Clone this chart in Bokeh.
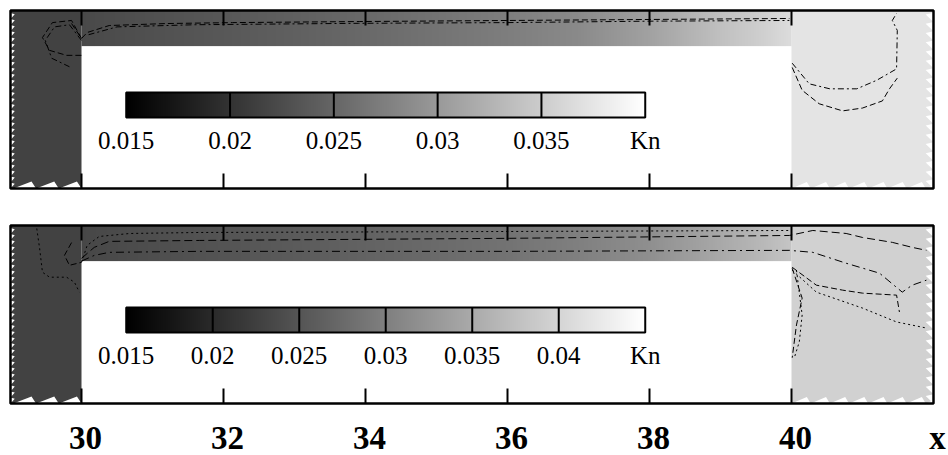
import numpy as np
from bokeh.plotting import figure
from bokeh.models import LinearColorMapper, ColumnDataSource, Range1d
from bokeh.layouts import column
from bokeh.core.properties import value
from bokeh.embed import file_html
from bokeh.resources import INLINE

# ---------------- data ----------------
# Kn along the micro-channel (x positions where it was read)
chan_x = [30, 31, 32, 33, 34, 35, 36, 37, 38, 38.5, 39, 39.5, 40]
kn_top_chan = [0.0222, 0.0229, 0.0236, 0.0244, 0.0253, 0.0263, 0.0273,
               0.0285, 0.0308, 0.0323, 0.0338, 0.0350, 0.0365]
kn_bot_chan = [0.0234, 0.0242, 0.0249, 0.0257, 0.0266, 0.0275, 0.0285,
               0.0300, 0.0318, 0.0333, 0.0348, 0.0363, 0.0381]
kn_top_inlet, kn_top_outlet = 0.0215, 0.0373
kn_bot_inlet, kn_bot_outlet = 0.0228, 0.0396

# colour bar scales
cbar_top_ticks = [0.015, 0.02, 0.025, 0.03, 0.035, 0.04]
cbar_top_labels = ["0.015", "0.02", "0.025", "0.03", "0.035", "Kn"]
cbar_bot_ticks = [0.015, 0.02, 0.025, 0.03, 0.035, 0.04, 0.045]
cbar_bot_labels = ["0.015", "0.02", "0.025", "0.03", "0.035", "0.04", "Kn"]

# x axis
x_ticks = [30, 32, 34, 36, 38, 40]
x_tick_labels = ["30", "32", "34", "36", "38", "40"]
x_axis_title = "x"

# contour lines (x, y, dash style) – top panel
top_contours = [
    ([29.86, 30.0, 30.08, 30.39, 31.2, 32.13, 33.92, 36.03, 38.0, 39.97],
     [0.317, 0.107, 0.191, 0.289, 0.317, 0.33, 0.345, 0.36, 0.374, 0.388], "6 3"),
    ([30.1, 30.5, 31.6, 33.9, 36.0, 38.0, 39.97],
     [0.16, 0.27, 0.30, 0.32, 0.33, 0.35, 0.36], "6 3 2 3"),
    ([30.0, 29.86, 29.59, 29.45, 29.55, 29.79, 30.0],
     [0.107, 0.36, 0.33, 0.12, -0.06, -0.13, -0.13], "6 3"),
    ([30.0, 29.83, 29.62, 29.49, 29.58, 29.83],
     [0.08, 0.30, 0.27, 0.08, -0.17, -0.29], "6 3 2 3"),
    ([40.01, 40.25, 40.54, 40.92, 41.2, 41.48, 41.49, 41.42, 41.48],
     [-0.24, -0.53, -0.60, -0.60, -0.48, -0.32, 0.22, 0.36, 0.46], "6 3 2 3"),
    ([40.01, 40.15, 40.39, 40.72, 41.0, 41.28, 41.38, 41.49],
     [-0.30, -0.62, -0.81, -0.91, -0.87, -0.77, -0.60, -0.45], "6 3"),
]
# contour lines – bottom panel
bot_contours = [
    ([30.0, 30.08, 30.25, 30.68, 31.66, 36.03, 39.97],
     [-0.017, 0.221, 0.346, 0.388, 0.402, 0.416, 0.43], "2 3"),
    ([30.0, 30.18, 30.39, 31.66, 36.03, 39.97, 40.30, 40.77, 41.0, 41.42, 41.70, 41.90],
     [0.039, 0.193, 0.277, 0.29, 0.32, 0.36, 0.43, 0.388, 0.332, 0.263, 0.193, 0.151],
     "8 4"),
    ([30.0, 30.18, 30.39, 31.66, 36.03, 39.97, 40.30, 40.77, 41.24, 41.56, 41.70, 41.90],
     [0.0, 0.08, 0.123, 0.137, 0.137, 0.151, 0.123, -0.03, -0.17, -0.436, -0.338, -0.268],
     "8 4 2 4"),
    ([40.01, 40.35, 40.72, 41.0, 41.48, 41.52],
     [-0.087, -0.338, -0.408, -0.45, -0.478, -0.715], "6 3"),
    ([40.01, 40.35, 41.0, 41.48, 41.90],
     [-0.128, -0.436, -0.66, -0.855, -0.94], "2 3"),
    ([40.01, 40.15, 40.07, 40.01],
     [-0.10, -0.52, -0.897, -1.357], "6 3"),
    ([40.07, 40.15, 40.11, 40.04],
     [-0.128, -0.757, -1.134, -1.357], "2 3"),
    ([29.37, 29.41, 29.45, 29.55, 29.79, 29.90, 29.97],
     [0.458, 0.179, -0.156, -0.226, -0.226, -0.296, -0.436], "2 3"),
    ([29.86, 29.76, 29.83, 30.0],
     [0.26, 0.081, -0.059, -0.017], "6 3"),
]

# ---------------- layout constants (geometry, not data) ----------------
X0, X1, Y0, Y1 = 29.0, 42.0, -2.0, 0.5          # domain of each panel
CH_X0, CH_X1, CH_Y0 = 30.0, 40.0, 0.0            # channel
PX_X, PX_Y = 71.0, 71.2                          # pixels per unit
XR = Range1d(X0 - 10 / PX_X, X0 + 938 / PX_X)
Y_TOP = Y1 + 10 / PX_Y
CB_X0, CB_X1, CB_Y0, CB_Y1 = 30.63, 37.94, -1.003, -0.652
CB_LAB_Y = Y_TOP - 140 / PX_Y
TICK_LEN = 15 / PX_Y
SERIF = "Liberation Serif"
gray_palette = ["#%02x%02x%02x" % (i, i, i) for i in range(256)]


def sawtooth(start, stop, step, base, depth, vertical):
    """white sawtooth along a mesh edge (rendering of jagged mesh border)"""
    s = np.arange(start, stop, step)
    a, b = [], []
    for v in s:
        a += [v, v + step * 0.8, v + step]
        b += [base, base + depth, base]
    return (b, a) if vertical else (a, b)


def make_panel(kn_chan, kn_in, kn_out, cticks, clabels, contours,
               height, show_labels):
    kmin, kmax = cticks[0], cticks[-1]
    mapper = LinearColorMapper(palette=gray_palette, low=kmin, high=kmax)
    p = figure(width=948, height=height, output_backend="svg",
               toolbar_location=None, x_range=XR,
               y_range=Range1d(Y_TOP - height / PX_Y, Y_TOP),
               x_axis_location=None, y_axis_location=None,
               min_border=0, min_border_left=0, min_border_right=0,
               min_border_top=0, min_border_bottom=0)
    p.grid.visible = False
    p.outline_line_color = None
    p.background_fill_color = "white"
    p.border_fill_color = "white"

    # inlet and outlet reservoirs
    src = ColumnDataSource(dict(left=[X0, CH_X1], right=[CH_X0, X1],
                                bottom=[Y0, Y0], top=[Y1, Y1],
                                kn=[kn_in, kn_out]))
    p.quad(left="left", right="right", bottom="bottom", top="top",
           fill_color={"field": "kn", "transform": mapper},
           line_color=None, source=src)
    # channel: read profile rendered as a smooth gradient
    xs = np.linspace(CH_X0, CH_X1, 600)
    prof = np.interp(xs, chan_x, kn_chan)
    p.image(image=[np.tile(prof, (2, 1))], x=CH_X0, y=CH_Y0,
            dw=CH_X1 - CH_X0, dh=Y1 - CH_Y0, color_mapper=mapper)

    # jagged mesh borders
    for args in [(Y0, Y1 - 0.08, 0.085, X0, 0.06, True),
                 (Y0, Y1 - 0.08, 0.13, X1, -0.11, True),
                 (X0 + 0.04, CH_X0, 0.32, Y0, 0.1, False),
                 (CH_X1, X1, 0.27, Y0, 0.09, False)]:
        sx, sy = sawtooth(*args)
        p.patch(sx, sy, fill_color="white", line_color=None)

    # contour lines
    for cx, cy, dash in contours:
        p.line(cx, cy, line_color="black", line_width=1, line_dash=dash)

    # colour bar
    grad = np.linspace(kmin, kmax, 256).reshape(1, 256)
    p.image(image=[grad], x=CB_X0, y=CB_Y0, dw=CB_X1 - CB_X0,
            dh=CB_Y1 - CB_Y0, color_mapper=mapper)
    tx = [CB_X0 + (t - kmin) / (kmax - kmin) * (CB_X1 - CB_X0) for t in cticks]
    n = len(tx) - 2
    p.segment(x0=tx[1:-1], y0=[CB_Y0] * n, x1=tx[1:-1], y1=[CB_Y1] * n,
              line_color="black", line_width=2)
    p.quad(left=[CB_X0], right=[CB_X1], bottom=[CB_Y0], top=[CB_Y1],
           fill_color=None, line_color="black", line_width=2)
    p.text(x=tx, y=[CB_LAB_Y] * len(tx), text=clabels,
           text_font=value(SERIF), text_font_size="25px",
           text_align="center", text_baseline="middle",
           text_color="black")

    # panel border and inward ticks
    p.quad(left=[X0], right=[X1], bottom=[Y0], top=[Y1], fill_color=None,
           line_color="black", line_width=2.5)
    nt = len(x_ticks)
    p.segment(x0=x_ticks, y0=[Y1] * nt, x1=x_ticks, y1=[Y1 - TICK_LEN] * nt,
              line_color="black", line_width=2)
    p.segment(x0=x_ticks, y0=[Y0] * nt, x1=x_ticks, y1=[Y0 + TICK_LEN] * nt,
              line_color="black", line_width=2)

    if show_labels:
        lab_y = Y_TOP - 222 / PX_Y
        p.text(x=x_ticks, y=[lab_y] * nt, text=x_tick_labels, x_offset=4,
               text_font=value(SERIF), text_font_style="bold",
               text_font_size="33px", text_align="center",
               text_baseline="middle", text_color="black")
        p.text(x=[X1 + 4 / PX_X], y=[lab_y], text=[x_axis_title],
               text_font=value(SERIF), text_font_style="bold",
               text_font_size="33px", text_align="center",
               text_baseline="middle", text_color="black")
    return p


p_top = make_panel(kn_top_chan, kn_top_inlet, kn_top_outlet, cbar_top_ticks,
                   cbar_top_labels, top_contours, 215, False)
p_bot = make_panel(kn_bot_chan, kn_bot_inlet, kn_bot_outlet, cbar_bot_ticks,
                   cbar_bot_labels, bot_contours, 240, True)

layout = column(p_top, p_bot, spacing=0)
open("out.html", "w").write(file_html(layout, INLINE))
